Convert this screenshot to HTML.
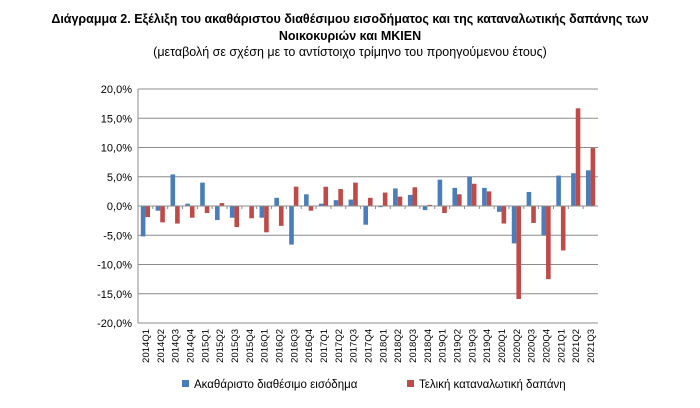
<!DOCTYPE html>
<html><head><meta charset="utf-8"><style>
body{margin:0;background:#fff;width:700px;height:408px;overflow:hidden;font-family:"Liberation Sans",sans-serif}
.t{position:absolute;left:0;width:700px;text-align:center;color:#000}
</style></head><body>
<div class="t" style="top:11px;font-size:12.5px;font-weight:bold;line-height:17px">Διάγραμμα 2. Εξέλιξη του ακαθάριστου διαθέσιμου εισοδήματος και της καταναλωτικής δαπάνης των<br>Νοικοκυριών και ΜΚΙΕΝ</div>
<div class="t" style="top:45px;font-size:12.5px">(μεταβολή σε σχέση με το αντίστοιχο τρίμηνο του προηγούμενου έτους)</div>
<svg id="c" width="700" height="408" style="position:absolute;left:0;top:0"></svg>
<script>
const categories=["2014Q1","2014Q2","2014Q3","2014Q4","2015Q1","2015Q2","2015Q3","2015Q4","2016Q1","2016Q2","2016Q3","2016Q4","2017Q1","2017Q2","2017Q3","2017Q4","2018Q1","2018Q2","2018Q3","2018Q4","2019Q1","2019Q2","2019Q3","2019Q4","2020Q1","2020Q2","2020Q3","2020Q4","2021Q1","2021Q2","2021Q3"];
const income=[-5.2,-0.8,5.4,0.4,4.0,-2.4,-2.0,0,-2.0,1.4,-6.6,2.0,0.4,1.0,1.1,-3.2,-0.2,3.0,1.9,-0.7,4.5,3.1,5.0,3.1,-1.0,-6.4,2.4,-5.0,5.2,5.6,6.1];
const spending=[-1.9,-2.8,-3.0,-2.0,-1.2,0.5,-3.6,-2.1,-4.5,-3.4,3.3,-0.8,3.3,2.9,4.0,1.4,2.3,1.6,3.2,0.2,-1.2,2.0,3.8,2.5,-3.0,-15.9,-2.9,-12.5,-7.6,16.7,9.9];
const yTicks=[20,15,10,5,0,-5,-10,-15,-20];
const svg=document.getElementById('c');const NS='http://www.w3.org/2000/svg';
const L=138,R=598,T=89,B=323;
const y=v=>T+(20-v)/40*(B-T);
const bw=(R-L)/categories.length;
const x=i=>L+i*bw;
function mk(t,a){const e=document.createElementNS(NS,t);for(const k in a)e.setAttribute(k,a[k]);svg.appendChild(e);return e;}
yTicks.forEach(v=>{
 const g=mk('line',{x1:L,x2:R,y1:y(v),y2:y(v),stroke:'#8c8c8c','stroke-width':1});
 
 
 const t=mk('text',{x:L-6,y:y(v)+4,'text-anchor':'end','font-size':11,fill:'#000'});
 t.textContent=v.toFixed(1).replace('.',',')+'%';
 
 
});
const ax=mk('line',{x1:L,x2:L,y1:T,y2:B,stroke:'#8c8c8c'});


categories.forEach((c,i)=>{
 const tk=mk('line',{x1:x(i),x2:x(i),y1:y(0),y2:y(0)+3,stroke:'#8c8c8c'});
 
 
 const w=4.6,cx=x(i)+bw/2;
 const b1=mk('rect',{x:cx-w,y:Math.min(y(0),y(income[i])),width:w,height:Math.abs(y(income[i])-y(0)),fill:'#4a7ebb'});
 
 
 const b2=mk('rect',{x:cx,y:Math.min(y(0),y(spending[i])),width:w,height:Math.abs(y(spending[i])-y(0)),fill:'#be4b48'});
 
 
 const t=mk('text',{x:0,y:0,'font-size':9.5,fill:'#000','text-anchor':'end',transform:`translate(${cx+3.5},${B+6}) rotate(-90)`});
 t.textContent=c;
 
 
});
const z=mk('line',{x1:L,x2:R,y1:y(0),y2:y(0),stroke:'#8c8c8c'});


[[182,'#4a7ebb','Ακαθάριστο διαθέσιμο εισόδημα','legend-income'],[407,'#be4b48','Τελική καταναλωτική δαπάνη','legend-spending']].forEach(([lx,col,txt,n])=>{
 const r=mk('rect',{x:lx,y:380,width:7,height:7,fill:col});
 
 
 const t=mk('text',{x:lx+12,y:388,'font-size':11.5,fill:'#000'});
 t.textContent=txt;
 
 
});
</script>
</body></html>
